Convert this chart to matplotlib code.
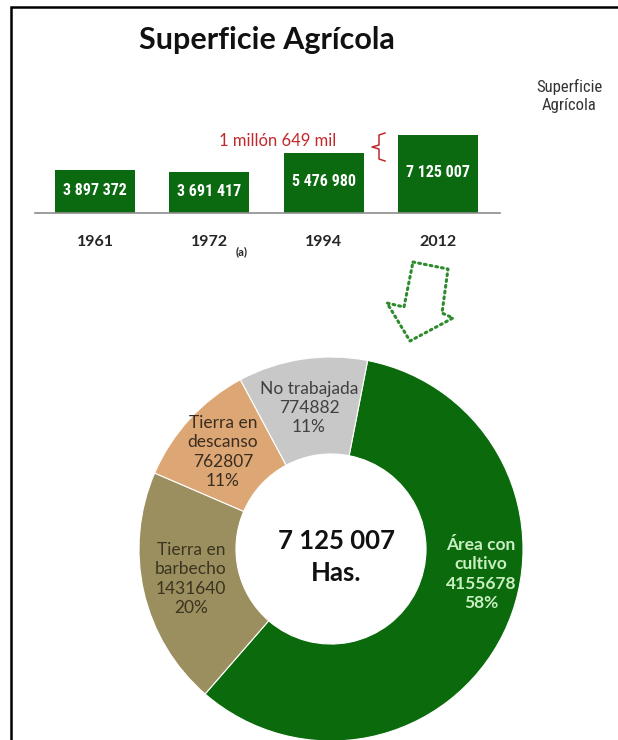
import matplotlib
matplotlib.use("Agg")
import matplotlib.pyplot as plt
from matplotlib import font_manager

# ---------------- data ----------------
years = ["1961", "1972", "1994", "2012"]
superficie = [3897372, 3691417, 5476980, 7125007]
bar_labels = ["3 897 372", "3 691 417", "5 476 980", "7 125 007"]

uso_labels = ["Área con\ncultivo", "Tierra en\nbarbecho", "Tierra en\ndescanso", "No trabajada"]
uso_values = [4155678, 1431640, 762807, 774882]
total_label = "7 125 007\nHas."
diff_label = "1 millón 649 mil"

# ---------------- fonts ----------------
avail = {f.name for f in font_manager.fontManager.ttflist}
def pick(*names):
    for n in names:
        if n in avail:
            return n
    return "DejaVu Sans"
MAIN = pick("Lato", "Open Sans", "Noto Sans")
NARROW = pick("Liberation Sans Narrow", "Roboto Condensed", "Liberation Sans", "Roboto")
plt.rcParams["font.family"] = [MAIN, "DejaVu Sans"]

W, H = 618, 740
fig = plt.figure(figsize=(W / 100, H / 100), dpi=100)
fig.patch.set_facecolor("white")

def fx(px):
    return px / W
def fy(py):
    return 1 - py / H

GREEN = "#0b6a10"

# ---------------- bar chart ----------------
bx0, bx1, base_y, top_y = 35, 500, 213, 100
axb = fig.add_axes([fx(bx0), fy(base_y), (bx1 - bx0) / W, (base_y - top_y) / H])
xs = list(range(len(years)))
axb.bar(xs, superficie, width=0.70, color=GREEN, zorder=2)
axb.set_xlim(-0.525, 3.543)
axb.set_ylim(0, (base_y - top_y) / 11.0 * 1e6)
for s in ["top", "right", "left"]:
    axb.spines[s].set_visible(False)
axb.spines["bottom"].set_color("#8c8c8c")
axb.spines["bottom"].set_linewidth(1.2)
axb.set_yticks([])
axb.set_xticks(xs)
axb.set_xticklabels(years, fontsize=11.5, color="#262626", fontweight="bold")
axb.tick_params(axis="x", length=0, pad=16)
for x, v, lab in zip(xs, superficie, bar_labels):
    axb.text(x, v / 2 + 0.1e6, lab, ha="center", va="center", color="white",
             fontsize=11.5, fontweight="bold", family=[NARROW, "DejaVu Sans"])

# ---------------- donut ----------------
cx, cy, R = 331, 549, 192
axp = fig.add_axes([fx(cx - R), fy(cy + R), 2 * R / W, 2 * R / H])
pie_colors = ["#0a6a0c", "#9c8f5f", "#dca775", "#c8c8c8"]
axp.pie(uso_values, colors=pie_colors, startangle=79, counterclock=False,
        radius=1.0, wedgeprops=dict(width=0.505, edgecolor="white", linewidth=0.8))
axp.set_xlim(-1, 1)
axp.set_ylim(-1, 1)
axp.set_aspect("equal")
axp.axis("off")

total = sum(uso_values)
def pct(v):
    return f"{round(100 * v / total)}%"

label_pos = [(481, 574), (191, 579), (223, 452), (309, 408)]
label_col = ["#c9efc2", "#3a3420", "#3a2d20", "#404040"]
label_w = ["bold", "normal", "normal", "normal"]
for lab, v, (px, py), c, w in zip(uso_labels, uso_values, label_pos, label_col, label_w):
    axp.text((px - cx) / R, (cy - py) / R, f"{lab}\n{v}\n{pct(v)}",
             ha="center", va="center", color=c, fontsize=12.5, fontweight=w,
             linespacing=1.25)
axp.text((336 - cx) / R, (cy - 557) / R, total_label, ha="center", va="center",
         fontsize=18.5, fontweight="bold", color="#111111", linespacing=1.4)

# ---------------- overlay (title, frame, annotations) ----------------
ov = fig.add_axes([0, 0, 1, 1], zorder=5)
ov.set_xlim(0, W)
ov.set_ylim(H, 0)
ov.axis("off")
ov.patch.set_alpha(0)

# frame (left and top only)
ov.plot([11, 11, W + 5], [H + 5, 7, 7], color="black", lw=1.8,
        solid_joinstyle="miter", clip_on=False)

ov.text(267, 40, "Superficie Agrícola", ha="center", va="center",
        fontsize=22, fontweight="bold", color="#111111")
ov.text(569, 96, "Superficie\nAgrícola", ha="center", va="center",
        fontsize=12, color="#333333", family=[NARROW, "DejaVu Sans"],
        linespacing=1.2)

# "(a)" subscript next to 1972
ov.text(242, 252, "(a)", ha="center", va="center", fontsize=8, color="#262626",
        fontweight="bold")

RED = "#c0282e"
ov.text(278, 141, diff_label, ha="center", va="center", fontsize=12, color=RED)
# brace between 1994 and 2012 tops
ov.plot([385, 379, 379, 372, 379, 379, 385],
        [133, 135, 145, 147, 149, 159, 161], color=RED, lw=1.1)

# dotted hollow arrow
arrow = [(413, 262), (448, 269), (442, 313), (453, 318), (410, 341),
         (387, 303), (404, 307), (413, 262)]
ax_, ay_ = zip(*arrow)
ov.plot(ax_, ay_, color="#2e8b2e", lw=2.2, linestyle=(0, (0.6, 1.3)),
        dash_capstyle="round")

fig.savefig("out.png", dpi=100, facecolor="white")
